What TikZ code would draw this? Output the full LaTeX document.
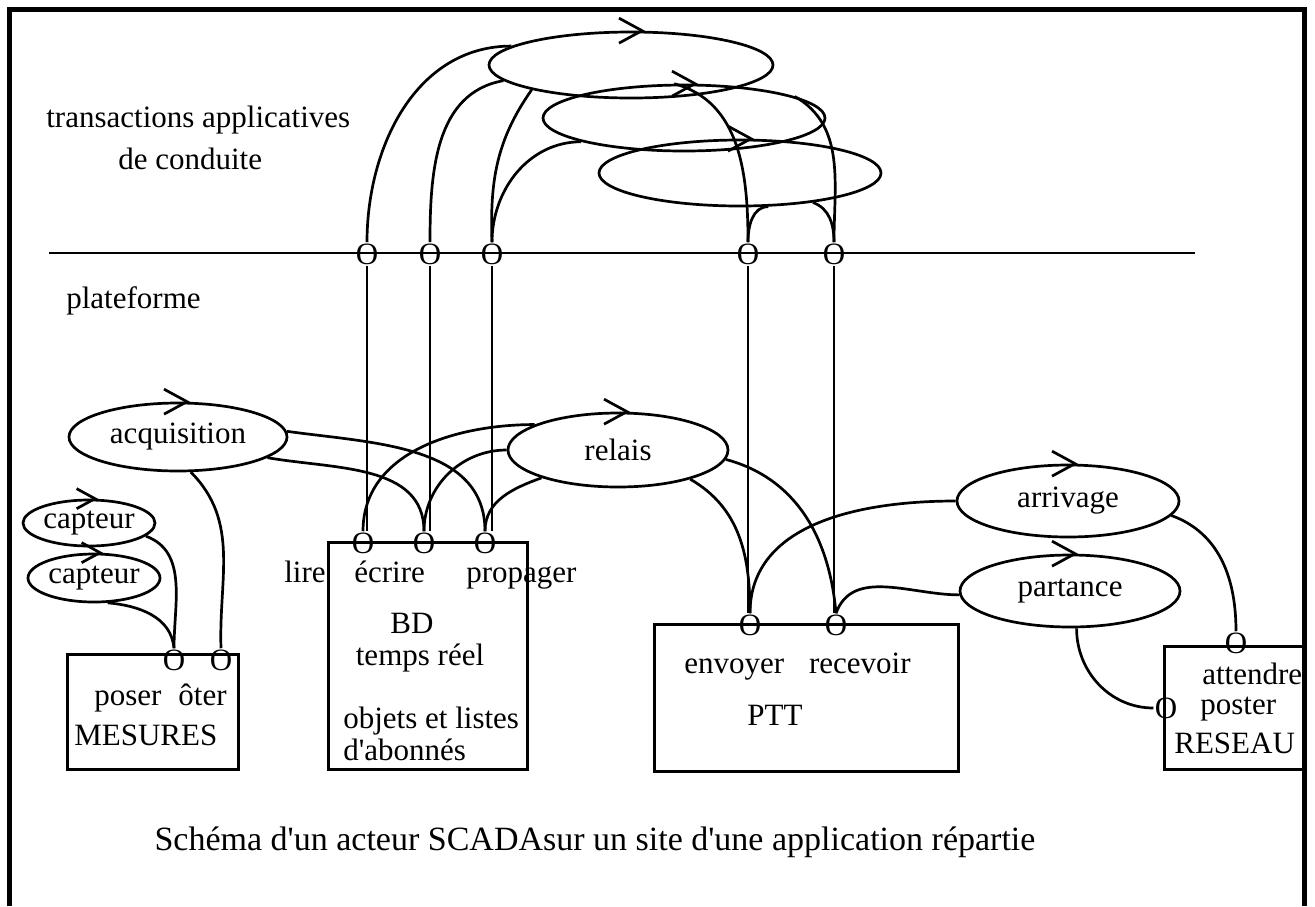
\documentclass[tikz,border=0pt]{standalone}
\usepackage{fontspec}
\newfontfamily\diagfont{Liberation Serif}
\usetikzlibrary{shapes.geometric}
\begin{document}
\begin{tikzpicture}[x=1pt,y=-1pt,line width=2.7pt,
  every node/.style={font=\diagfont\fontsize{31}{36}\selectfont},
  oval/.style={draw,ellipse,inner sep=0pt},
  port/.style={inner sep=0pt},
  box/.style={draw,anchor=north west,inner sep=0pt},
  lbl/.style={anchor=base,inner sep=0pt},
  chv/.pic={\draw[line join=miter] (-23,-12.5) -- (0,0) -- (-23,12.5);}]
\useasboundingbox (0,0) rectangle (1315,906);

% outer frame (open at the bottom)
\draw[line width=5pt] (9.2,906) -- (9.2,9.2) -- (1304.8,9.2) -- (1304.8,906);

% platform separation line
\coordinate (platL) at (49,253);
\coordinate (platR) at (1195,253);
\draw (platL) -- (platR);

\node[lbl,anchor=base west] (ttl1) at (45,127) {transactions applicatives};
\node[lbl,anchor=base west] (ttl2) at (117,169) {de conduite};
\node[lbl,anchor=base west] (ttl3) at (65,308) {plateforme};

% application transactions
\node[oval,minimum width=284pt,minimum height=66pt] (t1) at (631,65) {};
\node[oval,minimum width=282pt,minimum height=66pt] (t2) at (684,118) {};
\node[oval,minimum width=282pt,minimum height=66pt] (t3) at (740,173) {};
\pic at ([xshift=11pt]t1.north) {chv};
\pic at ([xshift=11pt]t2.north) {chv};
\pic at ([xshift=11pt]t3.north) {chv};

% ports on the platform line
\node[port] (pl1) at (367,254) {O};
\node[port] (pl2) at (430,254) {O};
\node[port] (pl3) at (492,254) {O};
\node[port] (pl4) at (748,254) {O};
\node[port] (pl5) at (834,254) {O};

% platform tasks
\node[oval,minimum width=218pt,minimum height=68pt] (acq) at (178,437) {acquisition};
\node[oval,minimum width=132pt,minimum height=46pt] (cp1) at (89,523) {capteur};
\node[oval,minimum width=132pt,minimum height=48pt] (cp2) at (94,578) {capteur};
\node[oval,minimum width=220pt,minimum height=74pt] (rel) at (618,450) {relais};
\node[oval,minimum width=222pt,minimum height=72pt] (arr) at (1068,501) {arrivage};
\node[oval,minimum width=220pt,minimum height=72pt] (par) at (1070,591) {partance};
\pic at ([xshift=9pt]acq.north) {chv};
\pic[scale=0.8] at ([xshift=6pt]cp1.north) {chv};
\pic[scale=0.8] at ([xshift=6pt]cp2.north) {chv};
\pic at ([xshift=9pt]rel.north) {chv};
\pic at ([xshift=7pt]arr.north) {chv};
\pic at ([xshift=5pt]par.north) {chv};

% modules
\node[box,minimum width=171pt,minimum height=115pt] (mes) at (66,653) {};
\node[box,minimum width=199pt,minimum height=227pt] (bd) at (327,541) {};
\node[box,minimum width=304pt,minimum height=147pt] (ptt) at (653,623) {};
\node[box,minimum width=140pt,minimum height=123pt] (res) at (1163,645) {};

% module ports
\node[port] (pos) at (174,660) {O};
\node[port] (ote) at (221,660) {O};
\node[port] (lire) at (363,543) {O};
\node[port] (ecr) at (424,543) {O};
\node[port] (prop) at (485,543) {O};
\node[port] (env) at (750,625) {O};
\node[port] (rec) at (836,625) {O};
\node[port] (att) at (1236,643) {O};
\node[port] (pst) at (1166,708) {O};

% module texts
\node[lbl,anchor=base west] at (93,705) {poser};
\node[lbl,anchor=base east] at (228,705) {ôter};
\node[lbl,anchor=base west] at (73,745) {MESURES};
\node[lbl,anchor=base west] at (283,582) {lire};
\node[lbl,anchor=base west] at (353,582) {écrire};
\node[lbl,anchor=base west] at (465,582) {propager};
\node[lbl] at (412,633) {BD};
\node[lbl] at (420,665) {temps réel};
\node[lbl,anchor=base west] at (342,728) {objets et listes};
\node[lbl,anchor=base west] at (342,760) {d'abonnés};
\node[lbl,anchor=base west] at (683,673) {envoyer};
\node[lbl,anchor=base east] at (912,673) {recevoir};
\node[lbl] at (775,725) {PTT};
\node[lbl,anchor=base west] at (1201,684) {attendre};
\node[lbl,anchor=base west] at (1199,714) {poster};
\node[lbl,anchor=base west] at (1173,753) {RESEAU};

\node[lbl,font=\diagfont\fontsize{34}{40}\selectfont] (cap) at (595,850)
  {Schéma d'un acteur SCADAsur un site d'une application répartie};

% links between transactions and the platform
\draw (pl1.north) to[out=90,in=180] (t1.171);
\draw (pl2.north) to[out=90,in=190] (t1.187);
\draw (pl3.north) to[out=92,in=235] (t1.194);
\draw (pl3.north) to[out=90,in=180] (t2.193);
\draw (t2.106) to[out=-15,in=90] (pl4.north);
\draw (pl4.north) to[out=90,in=180] (t3.-50);
\draw (t2.11) to[out=-30,in=90] (pl5.north);
\draw (t3.-22) to[out=-20,in=90] (pl5.north);

% vertical links through the platform
\draw (pl1.south) -- (pl1.south |- lire.north);
\draw (pl2.south) -- (pl2.south |- ecr.north);
\draw (pl3.south) -- (pl3.south |- prop.north);
\draw (pl4.south) -- (pl4.south |- env.north);
\draw (pl5.south) -- (pl5.south |- rec.north);

% links of the platform tasks
\draw (cp1.-13) to[out=-20,in=90] (pos.north);
\draw (cp2.-61) to[out=-5,in=95] (pos.north);
\draw (acq.-70) to[out=-45,in=92] (ote.north);
\draw (acq.3) to[out=-8,in=90] (prop.north);
\draw (acq.-13) to[out=-10,in=90] (ecr.north);
\draw (lire.north) to[out=90,in=180] (rel.163);
\draw (ecr.north) to[out=90,in=180] (rel.180);
\draw (prop.north) to[out=90,in=200] (rel.200);
\draw (rel.-5) to[out=-15,in=95] (rec.north);
\draw (rel.-22) to[out=-30,in=90] (env.north);
\draw (arr.180) to[out=180,in=90] (env.north);
\draw (par.182) to[out=180,in=70] (rec.north);
\draw (arr.-8) to[out=-20,in=90] (att.north);
\draw (par.-80) to[out=-90,in=180] (pst.west);
\end{tikzpicture}
\end{document}
